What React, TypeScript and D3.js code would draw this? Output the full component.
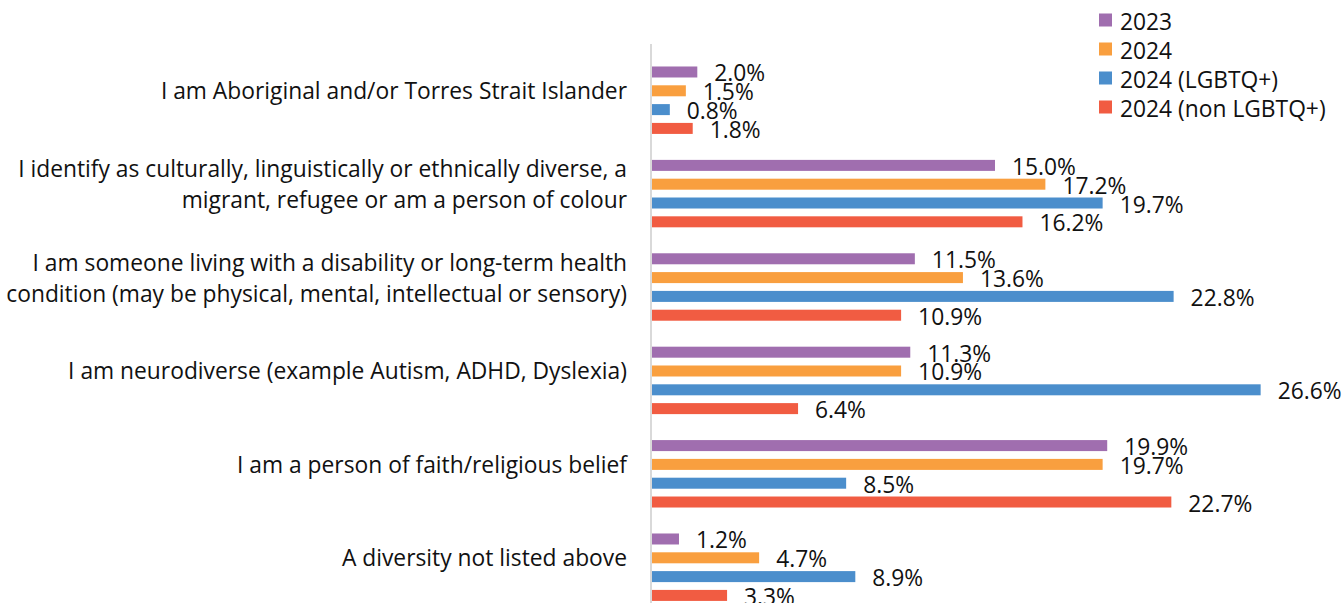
import React from "react";
import * as d3 from "d3";

const categories: string[][] = [
  ["I am Aboriginal and/or Torres Strait Islander"],
  ["I identify as culturally, linguistically or ethnically diverse, a", "migrant, refugee or am a person of colour"],
  ["I am someone living with a disability or long-term health", "condition (may be physical, mental, intellectual or sensory)"],
  ["I am neurodiverse (example Autism, ADHD, Dyslexia)"],
  ["I am a person of faith/religious belief"],
  ["A diversity not listed above"],
];
const seriesNames = ["2023", "2024", "2024 (LGBTQ+)", "2024 (non LGBTQ+)"];
const colors = ["#A06EAF", "#F99F3F", "#4B8ECC", "#F15C42"];
const v2023 = [2.0, 15.0, 11.5, 11.3, 19.9, 1.2];
const v2024 = [1.5, 17.2, 13.6, 10.9, 19.7, 4.7];
const vLgbtq = [0.8, 19.7, 22.8, 26.6, 8.5, 8.9];
const vNon = [1.8, 16.2, 10.9, 6.4, 22.7, 3.3];
const seriesValues = [v2023, v2024, vLgbtq, vNon];

const W = 1343;
const H = 603;
const FONT = "'Open Sans', 'Noto Sans', sans-serif";
const FS = 22.8;

export default function App() {
  const keys = categories.map((_, i) => String(i));
  const x = d3.scaleLinear().domain([0, 1]).range([651.5, 651.5 + 22.9]);
  const y0 = d3.scaleBand<string>().domain(keys).range([53.5, 53.5 + 6 * 93.4]).paddingInner(0.278).paddingOuter(0.139);
  const y1 = d3.scaleBand<string>().domain(seriesNames).range([0, y0.bandwidth()]).paddingInner(0.415).paddingOuter(0);

  return (
    <svg width={W} height={H} style={{ position: "absolute", left: 0, top: 0, background: "#fff" }} fontFamily={FONT}>
      {categories.map((lines, i) => {
        const cy = (y0(keys[i]) as number) + y0.bandwidth() / 2 - 9.5;
        const lh = 31;
        const start = cy - ((lines.length - 1) * lh) / 2;
        return (
          <text key={"c" + i} x={627} textAnchor="end" fontSize={FS} fill="#111">
            {lines.map((l, k) => (
              <tspan key={k} x={627} y={start + k * lh} dominantBaseline="central">{l}</tspan>
            ))}
          </text>
        );
      })}
      {seriesValues.map((vals, s) =>
        vals.map((v, i) => {
          const yy = (y0(keys[i]) as number) + (y1(seriesNames[s]) as number);
          return (
            <g key={s + "-" + i}>
              <rect x={x(0)} y={yy} width={x(v) - x(0)} height={y1.bandwidth()} fill={colors[s]} />
              <text x={x(v) + 17} y={yy + y1.bandwidth() / 2 + 1} dominantBaseline="central" fontSize={FS} fill="#111">
                {v.toFixed(1) + "%"}
              </text>
            </g>
          );
        })
      )}
      <line x1={651} x2={651} y1={44} y2={H} stroke="#D9D9D9" strokeWidth={2} />
      {seriesNames.map((n, s) => (
        <g key={"l" + s}>
          <rect x={1099} y={20 + s * 29 - 6.5} width={13} height={13} fill={colors[s]} />
          <text x={1120} y={20 + s * 29 + 1} dominantBaseline="central" fontSize={FS} fill="#111">{n}</text>
        </g>
      ))}
    </svg>
  );
}
